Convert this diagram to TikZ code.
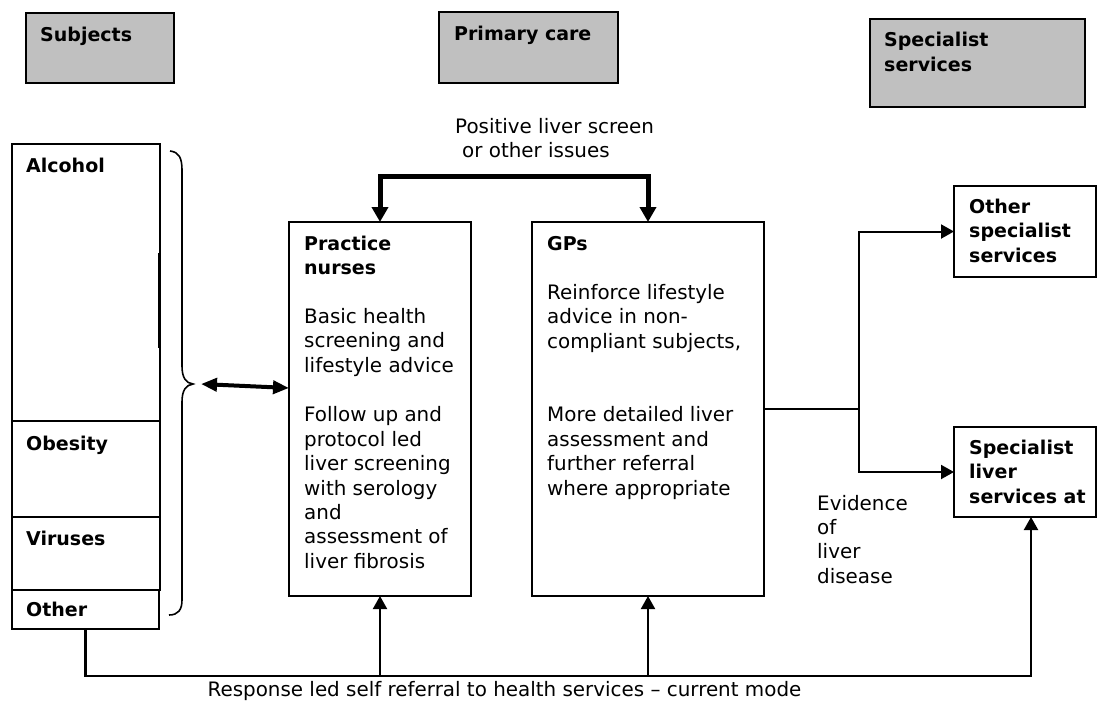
\documentclass[tikz,border=0pt]{standalone}
\usepackage{fontspec}
\setmainfont{DejaVu Sans}
\usetikzlibrary{arrows.meta,calc}
\definecolor{hdrgray}{RGB}{192,192,192}
\begin{document}
\begin{tikzpicture}[x=1pt,y=-1pt,
  box/.style={draw=black, line width=2pt, rectangle, inner sep=0pt, outer sep=0pt, anchor=north west},
  hdr/.style={box, fill=hdrgray},
  txt/.style={anchor=north west, inner sep=0pt, align=left, font=\fontsize{19.9}{24.4}\selectfont},
  btxt/.style={txt, font=\fontsize{19}{24.4}\selectfont\bfseries},
  conn/.style={line width=2pt},
  tip/.style={-{Triangle[width=14pt,length=13pt]}},
  thickconn/.style={line width=5pt, {Triangle[width=16pt,length=15pt]}-{Triangle[width=16pt,length=15pt]}},
  dbl/.style={line width=4pt, {Triangle[width=13pt,length=16pt]}-{Triangle[width=13pt,length=16pt]}},
  bracestyle/.style={line width=1.6pt}
]
\path[use as bounding box] (0,0) rectangle (1098,702);

% header boxes
\node[hdr, minimum width=148, minimum height=70] (subj) at (26,13) {};
\node[hdr, minimum width=179, minimum height=71] (prim) at (439,12) {};
\node[hdr, minimum width=215, minimum height=88] (spec) at (870,19) {};
\node[btxt] (subjT) at (40,23.9) {\strut Subjects};
\node[btxt] (primT) at (454,23.6) {\strut Primary care};
\node[btxt] (specT) at (884,29.6) {\strut Specialist\\services};

% subject boxes
\node[box, minimum width=148, minimum height=277] (alc) at (12,144) {};
\node[box, minimum width=148, minimum height=96] (obe) at (12,421) {};
\node[box, minimum width=148, minimum height=73] (vir) at (12,517) {};
\node[box, minimum width=147, minimum height=39] (oth) at (12,590) {};
\draw[line width=1.5pt] (158.5,253) -- (158.5,348);
\node[btxt] (alcT) at (26,154.9) {\strut Alcohol};
\node[btxt] (obeT) at (26,433.6) {\strut Obesity};
\node[btxt] (virT) at (26,527.9) {\strut Viruses};
\node[btxt] (othT) at (26,599.6) {\strut Other};

% brace
\draw[bracestyle] (170,151) .. controls (179,152) and (182,158) .. (182,170)
  -- (182,366) .. controls (182,378) and (186,383) .. (193,384)
  .. controls (186,385) and (182,390) .. (182,402)
  -- (182,600) .. controls (182,610) and (178,615) .. (169,615);
\coordinate (bt) at (201,384);

% primary care boxes
\node[box, minimum width=182, minimum height=374] (pn) at (289,222) {};
\node[box, minimum width=232, minimum height=374] (gp) at (532,222) {};
\node[btxt] (pnT1) at (304,232.9) {\strut Practice\\nurses};
\node[txt] (pnT2) at (304,306.2) {\strut Basic health\\screening and\\lifestyle advice};
\node[txt] (pnT3) at (304,404.6) {\strut Follow up and\\protocol led\\liver screening\\with serology\\and\\assessment of\\liver fibrosis};
\node[btxt] (gpT1) at (547,232.9) {\strut GPs};
\node[txt] (gpT2) at (547,282.2) {\strut Reinforce lifestyle\\advice in non-\\compliant subjects,};
\node[txt] (gpT3) at (547,404.6) {\strut More detailed liver\\assessment and\\further referral\\where appropriate};

% specialist boxes
\node[box, minimum width=142, minimum height=91] (os) at (954,186) {};
\node[box, minimum width=142, minimum height=90] (sl) at (954,427) {};
\node[btxt] (osT) at (969,196.2) {\strut Other\\specialist\\services};
\node[btxt] (slT) at (969,437.2) {\strut Specialist\\liver\\services at};

% labels
\node[txt] (posT) at (455,115.9) {\strut Positive liver screen\\\hspace*{7pt}or other issues};
\node[txt] (evT) at (817,492.9) {\strut Evidence\\of\\liver\\disease};
\node[anchor=base, inner sep=0pt, font=\fontsize{19.9}{24.4}\selectfont] (respT) at (504.5,696) {Response led self referral to health services – current mode};

% connectors
\draw[thickconn] (pn.north) -- ++(0,-46) -| (gp.north);
\draw[dbl] (bt) -- (pn.west |- 0,388);
\coordinate (br) at (859,409);
\draw[conn] (gp.east) -- (br);
\draw[conn,tip] (br) |- (os.west);
\draw[conn,tip] (br) |- (sl.west);
\coordinate (slin) at ($(sl.south west)+(77,0)$);
\draw[conn,line width=2.2pt,tip] (oth.south) -- (oth.south |- 0,676) -| (slin);
\draw[conn,tip] (pn.south |- 0,676) -- (pn.south);
\draw[conn,tip] (gp.south |- 0,676) -- (gp.south);
\end{tikzpicture}
\end{document}
